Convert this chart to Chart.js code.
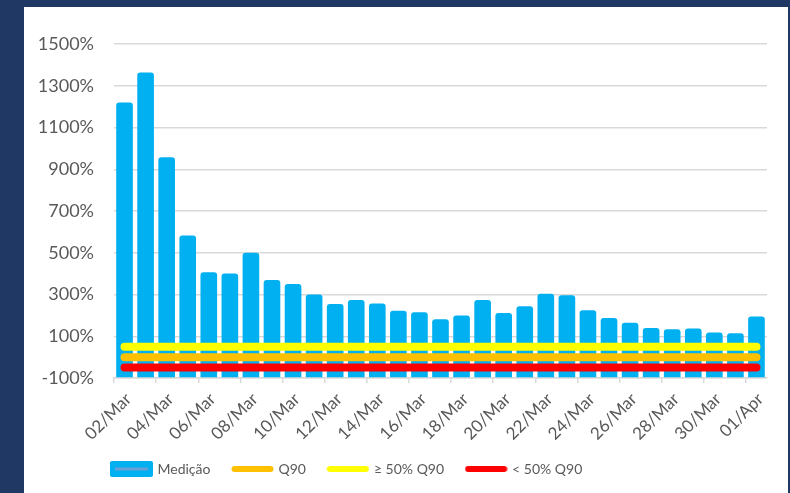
<html lang="pt">
<head>
    <meta charset="UTF-8">
    <title>Medição vs Q90</title>
    <script src="https://cdn.jsdelivr.net/npm/chart.js"></script>
    <style>
        body { margin: 0; background: #203864; width: 790px; height: 493px; overflow: hidden; }
        #painel { position: absolute; left: 24px; top: 7px; width: 764px; height: 486px; background: #ffffff; }
    </style>
</head>
<body>
    <div id="painel"><canvas id="myChart" width="764" height="486"></canvas></div>

    <script>
        // dias
        let dias = ['02/Mar', '03/Mar', '04/Mar', '05/Mar', '06/Mar', '07/Mar', '08/Mar', '09/Mar', '10/Mar', '11/Mar',
                    '12/Mar', '13/Mar', '14/Mar', '15/Mar', '16/Mar', '17/Mar', '18/Mar', '19/Mar', '20/Mar', '21/Mar',
                    '22/Mar', '23/Mar', '24/Mar', '25/Mar', '26/Mar', '27/Mar', '28/Mar', '29/Mar', '30/Mar', '31/Mar', '01/Apr'];

        // medição em %
        let medicao = [1220, 1364, 958, 583, 406, 401, 500, 370, 350, 300,
                       255, 274, 257, 222, 215, 182, 200, 274, 211, 244,
                       304, 296, 225, 188, 165, 140, 134, 137, 118, 114, 195];

        // limites
        let nivelQ90 = 0;
        let nivelAcima50 = 50;
        let nivelAbaixo50 = -50;

        let yTicks = [-100, 100, 300, 500, 700, 900, 1100, 1300, 1500];

        let q90 = dias.map(() => nivelQ90);
        let acima50 = dias.map(() => nivelAcima50);
        let abaixo50 = dias.map(() => nivelAbaixo50);

        let cinza = '#595959';
        let grade = '#d9d9d9';

        Chart.defaults.font.family = 'Lato';
        Chart.defaults.color = cinza;

        //desenha os simbolos da legenda
        function simbolo(tipo, cor) {
            let c = document.createElement('canvas');
            c.width = 43;
            c.height = 16;
            let g = c.getContext('2d');
            if (tipo === 'bar') {
                g.fillStyle = cor;
                g.beginPath();
                g.roundRect(0, 0, 43, 16, 2);
                g.fill();
                g.strokeStyle = '#6a9fd6';
                g.lineWidth = 3;
                g.beginPath();
                g.moveTo(5, 8);
                g.lineTo(38, 8);
                g.stroke();
            } else {
                g.strokeStyle = cor;
                g.lineWidth = 6;
                g.lineCap = 'round';
                g.beginPath();
                g.moveTo(3.5, 8);
                g.lineTo(39.5, 8);
                g.stroke();
            }
            return c;
        }

        function linha(nome, dados, cor) {
            return {
                type: 'line',
                label: nome,
                data: dados,
                borderColor: cor,
                backgroundColor: cor,
                borderWidth: 8,
                borderCapStyle: 'round',
                pointRadius: 0,
                order: 0
            };
        }

        // empurra a legenda para a posição do original
        let moverLegenda = {
            id: 'moverLegenda',
            afterLayout(chart) {
                let l = chart.legend;
                l.left += 65.5;
                l.right += 65.5;
                l.top -= 7;
                l.bottom -= 7;
            }
        };

        let ctx = document.getElementById('myChart').getContext('2d');
        let myChart = new Chart(ctx, {
            type: 'bar',
            data: {
                labels: dias,
                datasets: [
                    {
                        label: 'Medição',
                        data: medicao,
                        base: -100,
                        backgroundColor: '#00b0f0',
                        borderRadius: { topLeft: 3, topRight: 3 },
                        borderSkipped: 'start',
                        barPercentage: 0.79,
                        categoryPercentage: 1.0,
                        order: 1
                    },
                    linha('Q90', q90, '#ffc000'),
                    linha('≥ 50% Q90', acima50, '#ffff00'),
                    linha('< 50% Q90', abaixo50, '#ff0000')
                ]
            },
            plugins: [moverLegenda],
            options: {
                responsive: false,
                animation: false,
                layout: { padding: { left: 0, right: 21, top: 37, bottom: 0 } },
                plugins: {
                    tooltip: { enabled: false },
                    legend: {
                        position: 'bottom',
                        align: 'start',
                        maxHeight: 47,
                        labels: {
                            font: { size: 14 },
                            color: cinza,
                            usePointStyle: true,
                            pointStyleWidth: 38,
                            padding: 23,
                            generateLabels: function (chart) {
                                let cores = ['#00b0f0', '#ffc000', '#ffff00', '#ff0000'];
                                return chart.data.datasets.map((ds, i) => ({
                                    text: ds.label,
                                    pointStyle: simbolo(i === 0 ? 'bar' : 'line', cores[i]),
                                    fillStyle: cores[i],
                                    strokeStyle: cores[i],
                                    lineWidth: 0,
                                    fontColor: cinza,
                                    hidden: false,
                                    datasetIndex: i
                                }));
                            }
                        }
                    }
                },
                scales: {
                    x: {
                        grid: {
                            offset: true,
                            drawOnChartArea: false,
                            tickLength: 5,
                            lineWidth: 1.5,
                            tickColor: (c) => (c.index % 2 === 0 ? grade : 'rgba(0,0,0,0)')
                        },
                        border: { color: grade, width: 1.5 },
                        ticks: {
                            autoSkip: false,
                            minRotation: 45,
                            maxRotation: 45,
                            padding: 6,
                            labelOffset: 4,
                            font: { size: 17 },
                            color: cinza,
                            callback: function (v, i) { return i % 2 === 0 ? dias[i] : ''; }
                        },
                        afterFit: function (s) {
                            s.height = 68;
                            s.paddingLeft = 0;
                            s.paddingRight = 0;
                        }
                    },
                    y: {
                        min: -100,
                        max: 1500,
                        afterBuildTicks: function (s) { s.ticks = yTicks.map(v => ({ value: v })); },
                        grid: { color: grade, lineWidth: 1.5, drawTicks: false },
                        border: { display: false },
                        ticks: {
                            padding: 20,
                            font: { size: 18 },
                            color: cinza,
                            callback: function (v) { return v + '%'; }
                        },
                        afterFit: function (s) {
                            s.width = 90;
                            s.paddingTop = 0;
                            s.paddingBottom = 0;
                        }
                    }
                }
            }
        });
    </script>
</body>
</html>
